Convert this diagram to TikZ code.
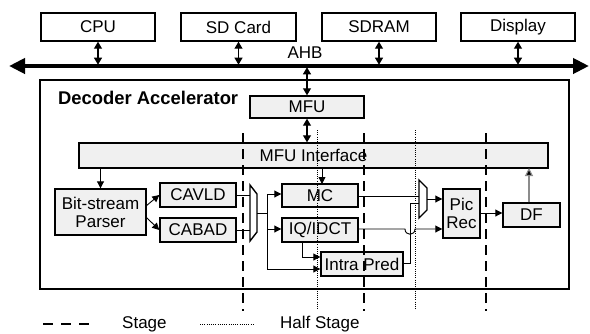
\documentclass[tikz,border=0pt]{standalone}
\usepackage{fontspec}
\setmainfont{Liberation Sans}
\usetikzlibrary{arrows.meta}
\begin{document}
\begin{tikzpicture}[x=1pt,y=-1pt,
  lbl/.style={font=\fontsize{17}{19}\selectfont},
  box/.style={draw, line width=1.4pt, inner sep=0pt, lbl, align=center},
  wbox/.style={box, fill=white},
  gbox/.style={box, fill=black!6},
  conn/.style={line width=0.9pt, -{Triangle[length=7pt,width=7pt]}},
  plain/.style={line width=0.9pt},
  dbl/.style={line width=1.1pt, {Triangle[length=7pt,width=8pt]}-{Triangle[length=7pt,width=8pt]}},
  stageline/.style={line width=2pt, dash pattern=on 10pt off 6pt},
  halfline/.style={line width=1pt, dash pattern=on 1pt off 1.2pt},
]
\useasboundingbox (0,0) rectangle (590,333);
% top boxes
\node[wbox, minimum width=114pt, minimum height=28pt] (cpu) at (98,27) {CPU};
\node[wbox, minimum width=115pt, minimum height=28pt] (sd) at (238.5,27) {SD Card};
\node[wbox, minimum width=114pt, minimum height=28pt] (sdram) at (379,27) {SDRAM};
\node[wbox, minimum width=114pt, minimum height=28pt] (disp) at (518,27) {Display};
% bus
\coordinate (busL) at (9,66);
\coordinate (busR) at (589,66);
\draw[line width=4pt, {Triangle[length=16pt,width=15pt]}-{Triangle[length=16pt,width=15pt]}] (busL) -- (busR);
\node[lbl, anchor=base] (ahb) at (305,58) {AHB};
\foreach \n in {cpu,sd,sdram,disp}{
  \draw[dbl] (\n.south) -- ++(0,23);
}
% accelerator frame
\node[draw, line width=2pt, minimum width=529pt, minimum height=209pt, inner sep=0pt] (acc) at (304.5,184.5) {};
\node[font=\fontsize{18.4}{20}\selectfont\bfseries, anchor=west, inner sep=0pt] (acclbl) at (58,98) {Decoder Accelerator};
% MFU
\node[gbox, minimum width=114pt, minimum height=22pt] (mfu) at (307,107) {MFU};
\draw[dbl] (mfu.north) -- ++(0,-28);
\node[gbox, minimum width=469pt, minimum height=25pt] (mfui) at (313.5,155.5) {MFU Interface};
\draw[dbl] (mfu.south) -- (mfu.south |- mfui.north);
% parser and entropy decoders
\node[gbox, minimum width=91pt, minimum height=46pt, font=\fontsize{17}{18}\selectfont] (bsp) at (100.5,212) {Bit-stream\\Parser};
\draw[conn] (bsp.north |- mfui.south) -- (bsp.north);
\node[gbox, minimum width=76pt, minimum height=24pt] (cavld) at (198,195) {CAVLD};
\node[gbox, minimum width=76pt, minimum height=24pt] (cabad) at (198,230) {CABAD};
\coordinate (p1) at (146,206);
\coordinate (p2) at (146,217);
\draw[conn] (p1) -- (cavld.west);
\draw[conn] (p2) -- (cabad.west);
% mux 1
\draw[line width=1.4pt, fill=white] (250,185) -- (257,194) -- (257,232) -- (250,241) -- cycle;
\coordinate (m1a) at (250,195);
\coordinate (m1b) at (250,230);
\coordinate (m1o) at (257,213);
\draw[plain] (cavld.east) -- (m1a);
\draw[plain] (cabad.east) -- (m1b);
\coordinate (j1) at (267,213);
\draw[plain] (m1o) -- (j1);
% stage 2 blocks
\node[gbox, minimum width=76pt, minimum height=23pt] (mc) at (320,195.5) {MC};
\node[gbox, minimum width=76pt, minimum height=24pt] (iq) at (320,230) {IQ/IDCT};
\node[gbox, minimum width=82pt, minimum height=24pt] (ip) at (362,264) {Intra Pred};
\draw[plain] (267,194) -- (267,269);
\draw[conn] (267,194) -- (mc.west |- 0,194);
\draw[conn] (267,229) -- (iq.west |- 0,229);
\draw[conn] (267,269) -- (ip.west |- 0,269);
\draw[conn] (302,242) -- (302,257) -- (ip.west |- 0,257);
\draw[conn] (322,168) -- (322,184);
% mux 2
\draw[line width=1.4pt, fill=white] (419,180) -- (427,188) -- (427,210) -- (419,218) -- cycle;
\node[gbox, minimum width=37pt, minimum height=49pt, font=\fontsize{17}{18}\selectfont] (pic) at (461.5,213.5) {Pic\\Rec};
\node[gbox, minimum width=57pt, minimum height=24pt] (df) at (531.5,215) {DF};
\draw[plain] (mc.east |- 0,196) -- (419,196);
\draw[plain] (ip.east |- 0,263) -- (410,263) -- (410,203) -- (419,203);
\draw[conn] (iq.east |- 0,229) -- (405,229) .. controls (405,236) and (415,236) .. (415,229) -- (pic.west |- 0,229);
\draw[conn] (427,199) -- (pic.west |- 0,199);
\draw[conn] (pic.east |- 0,213) -- (df.west |- 0,213);
\draw[line width=1.1pt, draw=black!45, -{Triangle[length=8pt,width=8pt,fill=black]}] (df.north -| 529,0) -- (529,168);
% stage lines
\foreach \x in {243,364,486}{
  \draw[stageline] (\x,133) -- (\x,311);
}
\foreach \x in {317,415}{
  \draw[halfline] (\x,130) -- (\x,309);
}
% legend
\draw[stageline, dash pattern=on 10pt off 8pt] (43,324) -- (91,324);
\node[lbl, anchor=base west, inner sep=0pt] (lstage) at (122,328) {Stage};
\draw[halfline] (200,324) -- (253,324);
\node[lbl, anchor=base west, inner sep=0pt] (lhalf) at (280,328) {Half Stage};
\end{tikzpicture}
\end{document}
